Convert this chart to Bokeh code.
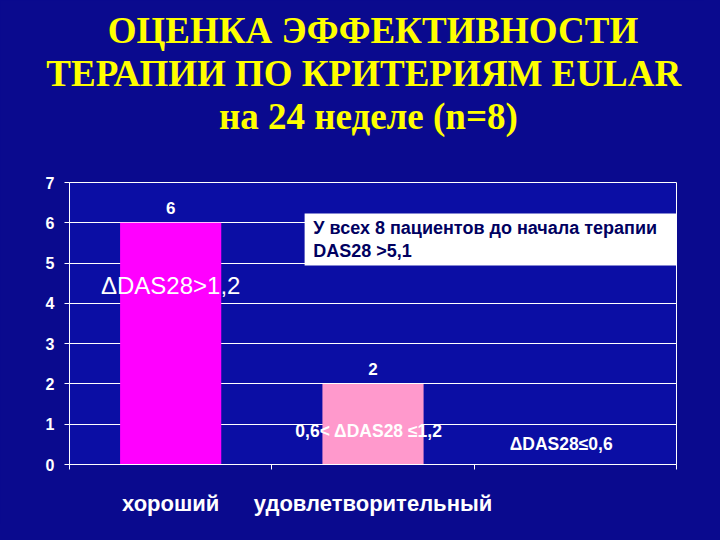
from bokeh.plotting import figure
from bokeh.models import Range1d, FixedTicker, Label, BoxAnnotation, ColumnDataSource, Title
from bokeh.embed import file_html
from bokeh.resources import INLINE

# ---- data ----
categories = ["хороший", "удовлетворительный", ""]
counts = [6, 2, 0]
bar_colors = ["#FF00FF", "#FF99CC", "#FF99CC"]
y_ticks = [0, 1, 2, 3, 4, 5, 6, 7]
title_lines = ["ОЦЕНКА ЭФФЕКТИВНОСТИ", "ТЕРАПИИ ПО  КРИТЕРИЯМ  EULAR", "на 24 неделе  (n=8)"]
group_labels = ["ΔDAS28>1,2", "0,6< ΔDAS28 ≤1,2", "ΔDAS28≤0,6"]
note_lines = [" У всех 8 пациентов до начала терапии", "DAS28 >5,1"]

BG = "#0a0a8e"
PLOT_BG = "#0b0ea4"
FONT = "Liberation Sans"
W, H = 704, 524
LEFT, TOP, RIGHT, BOTTOM = 69, 182, 28, 60

x_pos = [i + 0.5 for i in range(len(categories))]

p = figure(width=W, height=H, x_range=Range1d(0, len(categories)), y_range=Range1d(0, 7),
           output_backend="svg", toolbar_location=None,
           min_border_left=LEFT, min_border_right=RIGHT, min_border_top=TOP,
           min_border_bottom=BOTTOM)
p.border_fill_color = BG
p.background_fill_color = PLOT_BG
p.outline_line_color = "white"
p.outline_line_width = 1


def style_title(t, standoff, size="37px"):
    t.align = "center"
    t.offset = -12
    t.text_color = "#FFFF00"
    t.text_font = "Liberation Serif"
    t.text_font_style = "bold"
    t.text_font_size = size
    t.standoff = standoff


# p.title is the outermost line; added titles stack outward from the frame
p.title.text = title_lines[0]
style_title(p.title, 0)
spacer = Title(text=" ")
style_title(spacer, 43, "1px")
p.add_layout(spacer, "above")
for line in reversed(title_lines[1:]):
    t = Title(text=line)
    style_title(t, 0)
    p.add_layout(t, "above")

src = ColumnDataSource(dict(x=x_pos, top=counts, color=bar_colors))
p.vbar(x="x", top="top", width=0.5, color="color", source=src, line_color=None)

# axes
p.yaxis.ticker = FixedTicker(ticks=y_ticks)
p.yaxis.axis_line_color = "white"
p.yaxis.major_tick_line_color = "white"
p.yaxis.major_tick_out = 5
p.yaxis.major_tick_in = 0
p.yaxis.minor_tick_line_color = None
p.yaxis.major_label_text_color = "white"
p.yaxis.major_label_text_font = FONT
p.yaxis.major_label_text_font_style = "bold"
p.yaxis.major_label_text_font_size = "16px"
p.yaxis.major_label_standoff = 10

p.xaxis.ticker = FixedTicker(ticks=x_pos, minor_ticks=list(range(len(categories) + 1)))
p.xaxis.major_label_overrides = {x: c for x, c in zip(x_pos, categories)}
p.xaxis.axis_line_color = "white"
p.xaxis.major_tick_line_color = None
p.xaxis.minor_tick_line_color = "white"
p.xaxis.minor_tick_out = 5
p.xaxis.minor_tick_in = 0
p.xaxis.major_label_text_color = "white"
p.xaxis.major_label_text_font = FONT
p.xaxis.major_label_text_font_style = "bold"
p.xaxis.major_label_text_font_size = "22px"
p.xaxis.major_label_standoff = 20

p.xgrid.grid_line_color = None
p.ygrid.grid_line_color = "white"
p.ygrid.grid_line_width = 1
p.ygrid.ticker = FixedTicker(ticks=y_ticks)

# value labels
for x, c in zip(x_pos, counts):
    if c > 0:
        p.add_layout(Label(x=x, y=c, text=str(c), text_align="center", text_baseline="bottom",
                           y_offset=9, text_color="white", text_font=FONT,
                           text_font_style="bold", text_font_size="17px"))

# group descriptions
p.add_layout(Label(x=x_pos[0], y=4.44, text=group_labels[0], text_align="center",
                   text_baseline="middle", text_color="white", text_font=FONT,
                   text_font_size="24px"))
p.add_layout(Label(x=x_pos[1] - 0.02, y=0.84, text=group_labels[1], text_align="center",
                   text_baseline="middle", text_color="white", text_font=FONT,
                   text_font_style="bold", text_font_size="17.5px"))
p.add_layout(Label(x=x_pos[2] - 0.07, y=0.5, text=group_labels[2], text_align="center",
                   text_baseline="middle", text_color="white", text_font=FONT,
                   text_font_style="bold", text_font_size="17.5px"))

# note box
p.add_layout(BoxAnnotation(left=1.162, right=3, top=6.23, bottom=4.94,
                           fill_color="white", fill_alpha=1.0, line_color=None))
for yy, t in zip([5.86, 5.29], note_lines):
    p.add_layout(Label(x=1.205, y=yy, text=t, text_align="left", text_baseline="middle",
                       text_color="#000060", text_font=FONT, text_font_style="bold",
                       text_font_size="18px"))

html = file_html(p, INLINE)
html = html.replace("</head>", "<style>html,body{background:%s;}</style></head>" % BG, 1)
open("out.html", "w").write(html)
